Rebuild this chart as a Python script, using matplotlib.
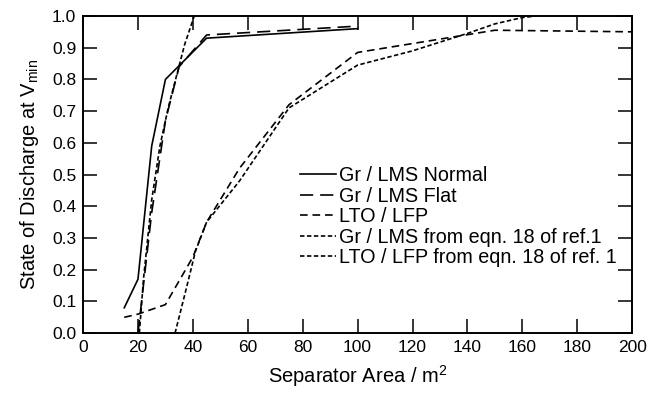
import numpy as np
import matplotlib
matplotlib.use("Agg")
import matplotlib.pyplot as plt

plt.rcParams['font.family'] = ['Liberation Sans', 'DejaVu Sans']
plt.rcParams['mathtext.fontset'] = 'custom'
plt.rcParams['mathtext.rm'] = 'Liberation Sans'
plt.rcParams['mathtext.it'] = 'Liberation Sans'
plt.rcParams['lines.scale_dashes'] = False

# Gr / LMS, normal electrode
x_normal = [15, 20, 25, 30, 45, 100]
y_normal = [0.08, 0.17, 0.59, 0.80, 0.93, 0.96]

# Gr / LMS, flat electrode
x_flat = [20, 25, 30, 35, 45, 100]
y_flat = [0.0, 0.38, 0.67, 0.84, 0.94, 0.968]

# LTO / LFP
x_lto = [15, 20, 30, 40, 45, 57, 75, 100, 150, 200]
y_lto = [0.05, 0.06, 0.09, 0.24, 0.35, 0.52, 0.72, 0.885, 0.955, 0.95]

# eqn. 18 predictions
x_gr_eq = [20.5, 22, 25, 28, 31, 34, 37, 40.5]
y_gr_eq = [0.0, 0.17, 0.42, 0.59, 0.71, 0.81, 0.91, 1.0]

x_lto_eq = [33.5, 37, 41, 45, 57, 75, 100, 120, 140, 150, 160, 165]
y_lto_eq = [0.0, 0.12, 0.26, 0.35, 0.48, 0.71, 0.845, 0.89, 0.945, 0.975, 0.995, 1.0]

fig = plt.figure(figsize=(6.49, 3.99), dpi=100)
ax = fig.add_axes([0.128, 0.165, 0.846, 0.795])

lw = 1.2
ax.plot(x_normal, y_normal, color='black', lw=lw, label='Gr / LMS Normal')
ax.plot(x_flat, y_flat, color='black', lw=lw, dashes=(9.5, 5), label='Gr / LMS Flat')
ax.plot(x_lto, y_lto, color='black', lw=lw, dashes=(5.5, 3.5), label='LTO / LFP')
ax.plot(x_gr_eq, y_gr_eq, color='black', lw=lw, dashes=(3.2, 1.8),
        label='Gr / LMS from eqn. 18 of ref.1')
ax.plot(x_lto_eq, y_lto_eq, color='black', lw=lw, dashes=(3.2, 1.8),
        label='LTO / LFP from eqn. 18 of ref. 1')

ax.set_xlim(0, 200)
ax.set_ylim(0, 1.0)
ax.set_xticks(np.arange(0, 201, 20))
ax.set_yticks(np.arange(0, 1.01, 0.1))
ax.yaxis.set_major_formatter(matplotlib.ticker.FormatStrFormatter('%.1f'))
ax.tick_params(direction='in', length=10, width=1.1, top=True, right=True,
               labelsize=12.5, pad=5)
for s in ax.spines.values():
    s.set_linewidth(1.4)

ax.set_xlabel('Separator Area / m$^2$', fontsize=14.5, labelpad=6)
ax.set_ylabel('State of Discharge at V$_{\\mathrm{min}}$', fontsize=14.5, labelpad=8)

ax.legend(loc='upper left', bbox_to_anchor=(300 / 649, 1 - 166 / 399),
          bbox_transform=fig.transFigure, frameon=False, fontsize=14.2,
          handlelength=1.8, handletextpad=0.2, labelspacing=0.08,
          borderaxespad=0, borderpad=0)

fig.savefig('out.png', dpi=100)
